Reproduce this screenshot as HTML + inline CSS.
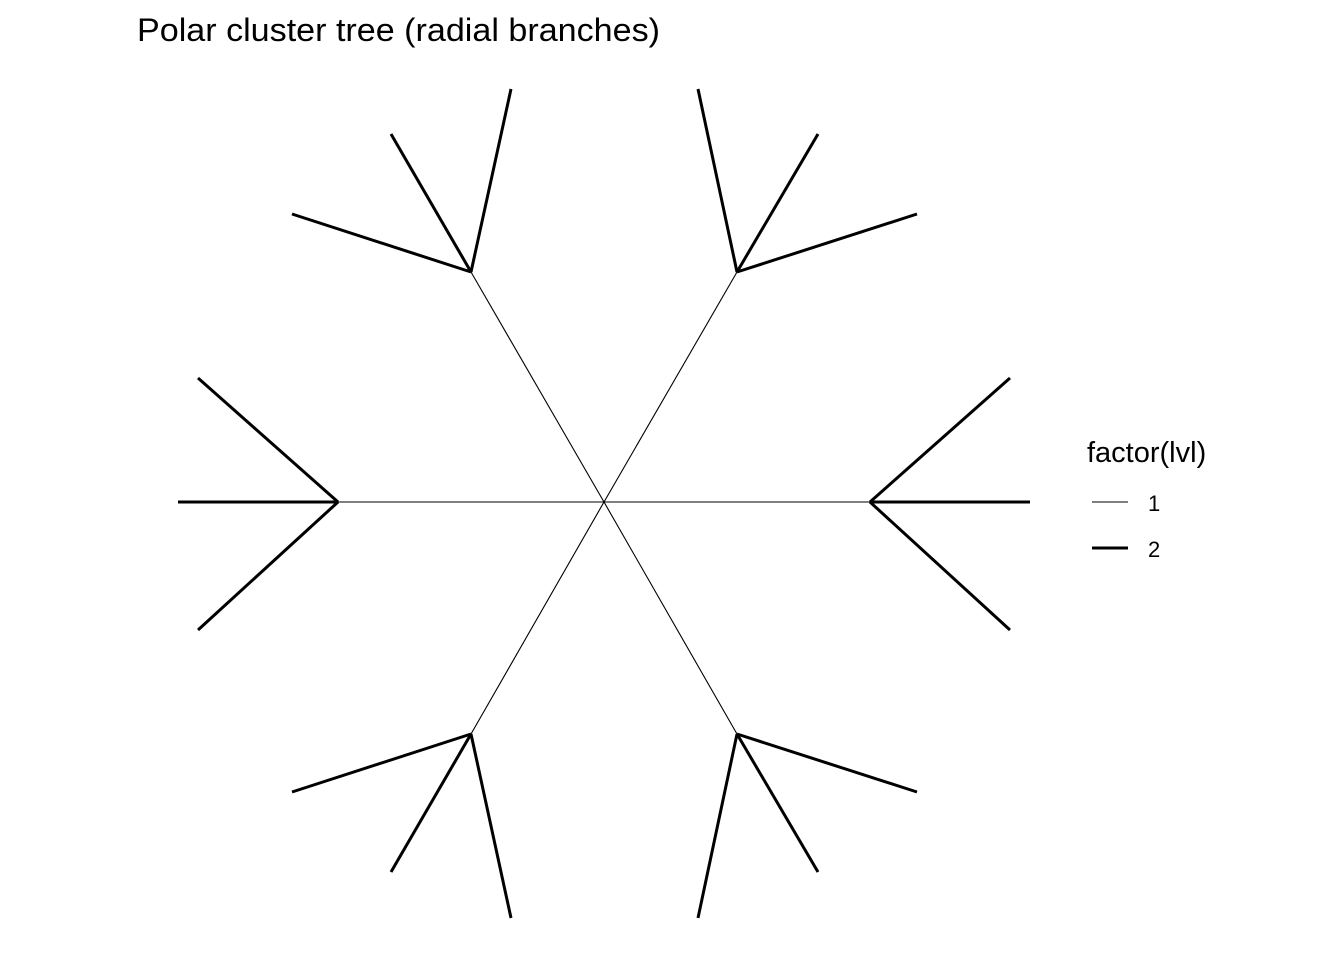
<!DOCTYPE html>
<html><head><meta charset="utf-8"><style>
html,body{margin:0;padding:0;background:#fff;}
svg{display:block;}
text{font-family:"Liberation Sans",Arial,sans-serif;fill:#000;}
</style></head><body>
<svg width="1344" height="960" viewBox="0 0 1344 960" xmlns="http://www.w3.org/2000/svg">
<text x="137" y="41" font-size="32" textLength="523" lengthAdjust="spacingAndGlyphs">Polar cluster tree (radial branches)</text>
<g stroke="#000" stroke-width="1.1" fill="none">
<line x1="604" y1="502" x2="338" y2="502"/>
<line x1="604" y1="502" x2="870" y2="502"/>
<line x1="604" y1="502" x2="471" y2="272"/>
<line x1="604" y1="502" x2="737" y2="272"/>
<line x1="604" y1="502" x2="471" y2="734"/>
<line x1="604" y1="502" x2="737" y2="734"/>
</g>
<g stroke="#000" stroke-width="3" fill="none" stroke-linecap="butt">
<line x1="338" y1="502" x2="178" y2="502"/>
<line x1="338" y1="502" x2="198" y2="378"/>
<line x1="338" y1="502" x2="198" y2="630"/>
<line x1="870" y1="502" x2="1030" y2="502"/>
<line x1="870" y1="502" x2="1010" y2="378"/>
<line x1="870" y1="502" x2="1010" y2="630"/>
<line x1="471" y1="272" x2="292" y2="214"/>
<line x1="471" y1="272" x2="391" y2="134"/>
<line x1="471" y1="272" x2="511" y2="89"/>
<line x1="737" y1="272" x2="698" y2="89"/>
<line x1="737" y1="272" x2="818" y2="134"/>
<line x1="737" y1="272" x2="917" y2="214"/>
<line x1="471" y1="734" x2="292" y2="792"/>
<line x1="471" y1="734" x2="391" y2="872"/>
<line x1="471" y1="734" x2="511" y2="918"/>
<line x1="737" y1="734" x2="698" y2="918"/>
<line x1="737" y1="734" x2="818" y2="872"/>
<line x1="737" y1="734" x2="917" y2="792"/>
</g>
<text x="1087" y="462" font-size="29">factor(lvl)</text>
<line x1="1092" y1="502" x2="1128" y2="502" stroke="#000" stroke-width="1.1"/>
<line x1="1092" y1="548" x2="1128" y2="548" stroke="#000" stroke-width="3"/>
<text x="1148" y="511" font-size="22">1</text>
<text x="1148" y="557" font-size="22">2</text>
</svg>
</body></html>
